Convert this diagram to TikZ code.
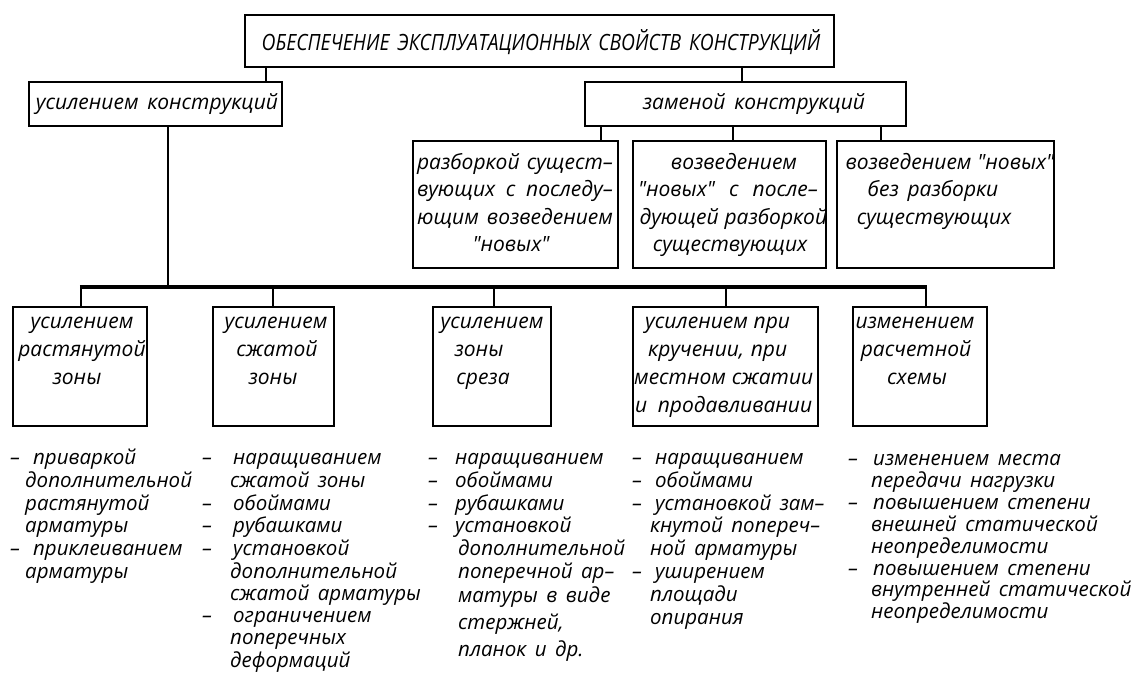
\documentclass[tikz,border=0pt]{standalone}
\usepackage{fontspec}
\newfontfamily\gost{Open Sans}[WordSpace=1.6]
\newfontfamily\gostcaps{Open Sans}[FakeStretch=0.86, WordSpace=1.6]
\newcommand\lidash{\makebox[\dw][l]{–}}
\newcommand\licont{\hspace*{\cw}}
\def\dw{23pt}\def\cw{15pt}
\begin{document}
\begin{tikzpicture}[x=1pt,y=-1pt,
  box/.style={draw, line width=2.6pt, rectangle, inner sep=0pt, outer sep=0pt, anchor=north west},
  ln/.style={line width=2.6pt},
  bus/.style={line width=3.2pt},
  drop/.style={line width=2.2pt},
  bt/.style={font=\gost\itshape\fontsize{21}{24}\selectfont, inner sep=0pt, anchor=base},
  tt/.style={font=\gostcaps\itshape\fontsize{22.4}{24}\selectfont, inner sep=0pt, anchor=base},
  lt/.style={font=\gost\itshape\fontsize{20.5}{22}\selectfont, inner sep=0pt, anchor=base west},
]
\useasboundingbox (0,0) rectangle (1135,693);

% boxes
\node[box, minimum width=589pt, minimum height=52pt] (top) at (245,15) {};
\node[box, minimum width=253pt, minimum height=44pt] (usil) at (29,82) {};
\node[box, minimum width=321pt, minimum height=44pt] (zam) at (585,82) {};
\node[box, minimum width=205pt, minimum height=127pt] (m1) at (413,141) {};
\node[box, minimum width=193pt, minimum height=127pt] (m2) at (633,141) {};
\node[box, minimum width=217pt, minimum height=127pt] (m3) at (837,141) {};
\node[box, minimum width=134pt, minimum height=119pt] (ba) at (13,307) {};
\node[box, minimum width=121pt, minimum height=119pt] (bb) at (213,307) {};
\node[box, minimum width=118pt, minimum height=119pt] (bc) at (433,307) {};
\node[box, minimum width=185pt, minimum height=119pt] (bd) at (633,307) {};
\node[box, minimum width=134pt, minimum height=119pt] (be) at (853,307) {};

% connectors
\coordinate (k1) at (266,0);
\coordinate (k2) at (742,0);
\coordinate (k3) at (601,0);
\coordinate (k4) at (733,0);
\coordinate (k5) at (881,0);
\coordinate (j0) at (168,287);
\coordinate (busL) at (81,287);
\coordinate (busR) at (926,287);
\coordinate (d2) at (273,287);
\coordinate (d3) at (494,287);
\coordinate (d4) at (726,287);
\draw[ln] (top.south -| k1) -- (usil.north -| k1);
\draw[ln] (top.south -| k2) -- (zam.north -| k2);
\draw[ln] (zam.south -| k3) -- (m1.north -| k3);
\draw[ln] (zam.south -| k4) -- (m2.north -| k4);
\draw[ln] (zam.south -| k5) -- (m3.north -| k5);
\draw[ln] (usil.south -| j0) -- (j0);
\draw[bus] ([xshift=-1.1pt]busL) -- ([xshift=1.1pt]busR);
\draw[drop] (busL) -- (ba.north -| busL);
\draw[drop] (d2) -- (bb.north -| d2);
\draw[drop] (d3) -- (bc.north -| d3);
\draw[drop] (d4) -- (bd.north -| d4);
\draw[drop] (busR) -- (be.north -| busR);

% texts in boxes
\node[tt] (ttop) at (541,51) {ОБЕСПЕЧЕНИЕ ЭКСПЛУАТАЦИОННЫХ СВОЙСТВ КОНСТРУКЦИЙ};
\node[bt] (tusil) at (157,110) {усилением конструкций};
\node[bt] (tzam) at (754,110) {заменой конструкций};

\node[bt] (m1a) at (515,169) {\makebox[196pt][s]{разборкой сущест–}};
\node[bt] (m1b) at (515,196.5) {\makebox[196pt][s]{вующих с последу–}};
\node[bt] (m1c) at (515,224) {\makebox[196pt][s]{ющим возведением}};
\node[bt] (m1d) at (511,251.5) {"новых"};

\node[bt] (m2a) at (734,169) {возведением};
\node[bt] (m2b) at (728,196.5) {\makebox[180pt][s]{"новых" с после–}};
\node[bt] (m2c) at (730,224) {\makebox[181pt][s]{дующей разборкой}};
\node[bt] (m2d) at (730,251.5) {существующих};

\node[bt] (m3a) at (946,169) {\makebox[201pt][s]{возведением "новых"}};
\node[bt] (m3b) at (933,196.5) {без разборки};
\node[bt] (m3c) at (934,224) {существующих};

\node[bt] (baa) at (82,328) {усилением};
\node[bt] (bab) at (82,356) {растянутой};
\node[bt] (bac) at (77,384) {зоны};

\node[bt] (bba) at (276,328) {усилением};
\node[bt] (bbb) at (277,356) {сжатой};
\node[bt] (bbc) at (273,384) {зоны};

\node[bt] (bca) at (492,328) {усилением};
\node[bt] (bcb) at (479,356) {зоны};
\node[bt] (bcc) at (483,384) {среза};

\node[bt, anchor=base west] (bda) at (645,328) {\makebox[140pt][s]{усилением при}};
\node[bt, anchor=base west] (bdb) at (648,356) {\makebox[139pt][s]{кручении, при}};
\node[bt, anchor=base west] (bdc) at (634,384) {\makebox[179pt][s]{местном сжатии}};
\node[bt, anchor=base west] (bdd) at (635,412) {\makebox[177pt][s]{и продавливании}};

\node[bt] (bea) at (915,328) {изменением};
\node[bt] (beb) at (916,356) {расчетной};
\node[bt] (bec) at (917,384) {схемы};

% lists
\def\dw{23pt}\def\cw{15pt}
\foreach \t [count=\i] in {{\lidash приваркой},{\licont дополнительной},{\licont растянутой},{\licont арматуры},{\lidash приклеиванием},{\licont арматуры}}
  \node[lt] (la\i) at (10,{464.5+(\i-1)*22.8}) {\t};

\def\dw{31pt}\def\cw{28pt}
\foreach \t/\y [count=\i] in {{\lidash наращиванием}/464.5,{\licont сжатой зоны}/487.3,{\lidash обоймами}/510.1,{\lidash рубашками}/532.9,{\lidash установкой}/555.7,{\licont дополнительной}/578.5,{\licont сжатой арматуры}/600,{\lidash ограничением}/622,{\licont поперечных}/644.5,{\licont деформаций}/667}
  \node[lt] (lb\i) at (202,\y) {\t};

\def\dw{27pt}\def\cw{30pt}
\foreach \t/\y [count=\i] in {{\lidash наращиванием}/464.5,{\lidash обоймами}/487.3,{\lidash рубашками}/510.1,{\lidash установкой}/532.9,{\licont дополнительной}/555.7,{\licont поперечной ар–}/578.5,{\licont матуры в виде}/602.5,{\licont стержней,}/629,{\licont планок и др.}/656}
  \node[lt] (lc\i) at (428,\y) {\t};

\def\dw{23pt}\def\cw{18pt}
\foreach \t [count=\i] in {{\lidash наращиванием},{\lidash обоймами},{\lidash установкой зам–},{\licont кнутой попереч–},{\licont ной арматуры},{\lidash уширением},{\licont площади},{\licont опирания}}
  \node[lt] (ld\i) at (632,{464.5+(\i-1)*22.8}) {\t};

\def\dw{25pt}\def\cw{23pt}
\foreach \t [count=\i] in {{\lidash изменением места},{\licont передачи нагрузки},{\lidash повышением степени},{\licont внешней статической},{\licont неопределимости},{\lidash повышением степени},{\licont внутренней статической},{\licont неопределимости}}
  \node[lt] (le\i) at (848,{465.5+(\i-1)*21.9}) {\t};
\end{tikzpicture}
\end{document}
